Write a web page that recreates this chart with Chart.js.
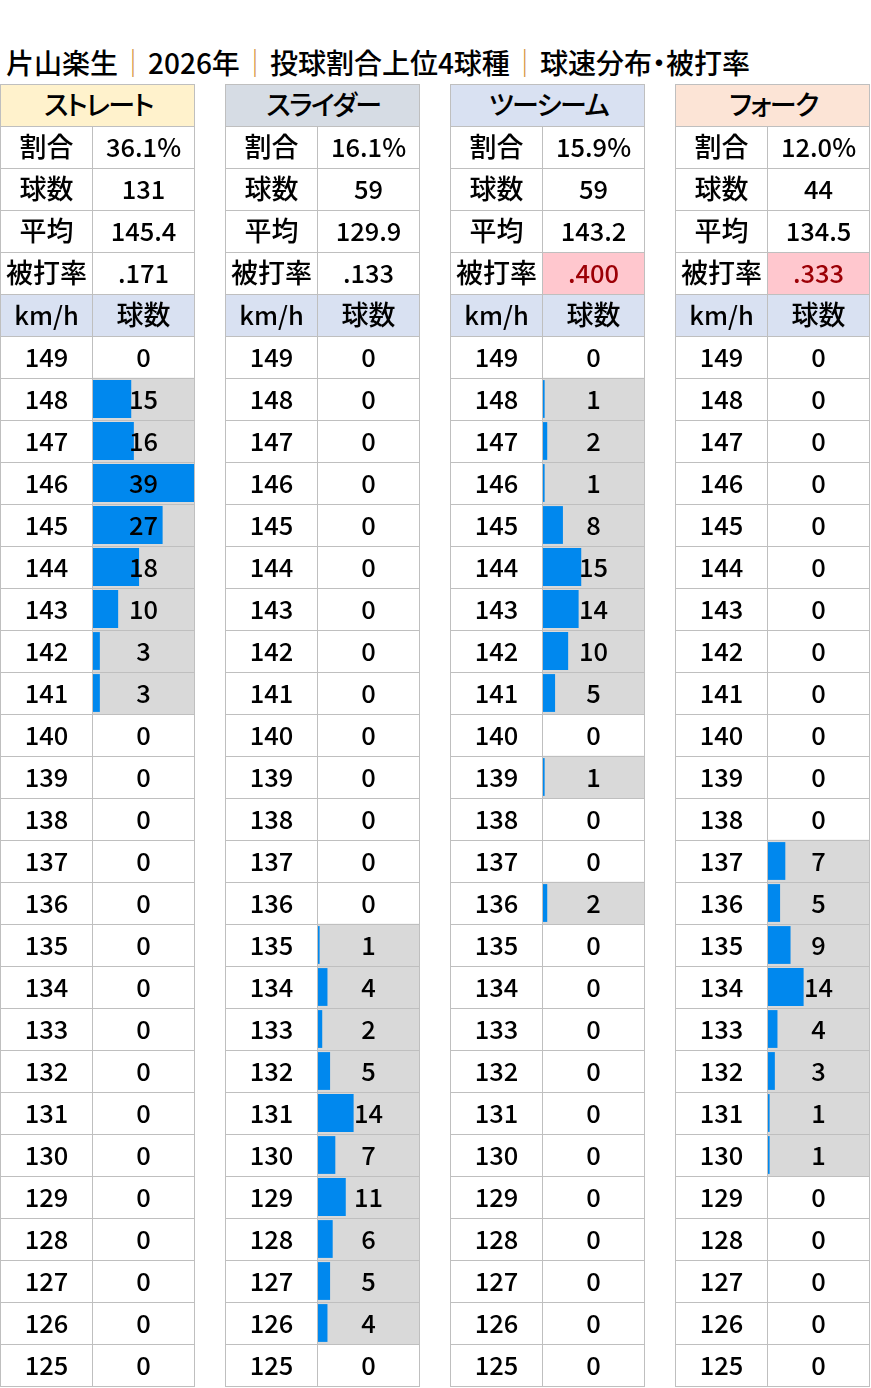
<!DOCTYPE html>
<html>
<head>
<meta charset="utf-8">
<script src="https://cdn.jsdelivr.net/npm/chart.js@4.4.1/dist/chart.umd.min.js"></script>
<style>
  body { margin: 0; background: #fff; width: 871px; height: 1388px; position: relative; overflow: hidden;
         font-family: "Noto Sans CJK JP", "Noto Sans", sans-serif; color: #000; }
  #title { position: absolute; left: 6px; top: 43px; font-size: 28px; font-weight: 500; white-space: nowrap;
           line-height: 38px; font-feature-settings: "palt"; }
  #title .sep { color: #d4923a; font-weight: 400; margin: 0 1px; }
  .cell { position: absolute; box-sizing: border-box; border: 1px solid #bfbfbf; display: flex;
          align-items: center; justify-content: center; font-size: 25.5px; font-weight: 500; z-index: 2;
          white-space: nowrap; padding-bottom: 4px; }
  .cell.kana { font-size: 27px; font-feature-settings: "palt"; }
  .cell.head { letter-spacing: -1.5px; padding-left: 2px; }
  canvas { position: absolute; z-index: 1; }
</style>
</head>
<body>
<div id="title">片山楽生<span class="sep">｜</span>2026年<span class="sep">｜</span>投球割合上位4球種<span class="sep">｜</span>球速分布・被打率</div>
<script>
// Pitch types and summary stats
const pitchNames = ['ストレート', 'スライダー', 'ツーシーム', 'フォーク'];
const headerColors = ['#fff2cc', '#d6dce4', '#d9e1f2', '#fce4d6'];
const statLabels = ['割合', '球数', '平均', '被打率'];
const shares = ['36.1%', '16.1%', '15.9%', '12.0%'];
const pitchCounts = ['131', '59', '59', '44'];
const avgSpeeds = ['145.4', '129.9', '143.2', '134.5'];
const battingAvgs = ['.171', '.133', '.400', '.333'];
const battingHot = [false, false, true, true];

// Speed bins (km/h)
const speeds = [149, 148, 147, 146, 145, 144, 143, 142, 141, 140, 139, 138, 137,
                136, 135, 134, 133, 132, 131, 130, 129, 128, 127, 126, 125];

// Pitch count per speed bin
const straightCounts = [0, 15, 16, 39, 27, 18, 10, 3, 3, 0, 0, 0, 0, 0, 0, 0, 0, 0, 0, 0, 0, 0, 0, 0, 0];
const sliderCounts   = [0, 0, 0, 0, 0, 0, 0, 0, 0, 0, 0, 0, 0, 0, 1, 4, 2, 5, 14, 7, 11, 6, 5, 4, 0];
const twoSeamCounts  = [0, 1, 2, 1, 8, 15, 14, 10, 5, 0, 1, 0, 0, 2, 0, 0, 0, 0, 0, 0, 0, 0, 0, 0, 0];
const forkCounts     = [0, 0, 0, 0, 0, 0, 0, 0, 0, 0, 0, 0, 7, 5, 9, 14, 4, 3, 1, 1, 0, 0, 0, 0, 0];
const allCounts = [straightCounts, sliderCounts, twoSeamCounts, forkCounts];

const panelX = [0, 225, 450, 675];
const TOP = 84, ROW = 42, COL1 = 92, COL2 = 102;
const maxCount = Math.max(...allCounts.flat());

function addCell(x, y, w, text, opts = {}) {
    const d = document.createElement('div');
    d.className = 'cell' + (opts.kana ? ' kana' : '') + (opts.head ? ' head' : '');
    d.style.left = x + 'px';
    d.style.top = y + 'px';
    d.style.width = (w + 1) + 'px';
    d.style.height = (ROW + 1) + 'px';
    if (opts.bg) d.style.background = opts.bg;
    if (opts.color) d.style.color = opts.color;
    d.textContent = text;
    document.body.appendChild(d);
}

pitchNames.forEach((name, p) => {
    const x0 = panelX[p];
    addCell(x0, TOP, COL1 + COL2, name, { bg: headerColors[p], kana: true, head: true });

    const values = [shares[p], pitchCounts[p], avgSpeeds[p], battingAvgs[p]];
    statLabels.forEach((label, i) => {
        const y = TOP + ROW * (i + 1);
        addCell(x0, y, COL1, label, { bg: '#fff', kana: true });
        const hot = i === 3 && battingHot[p];
        addCell(x0 + COL1, y, COL2, values[i], hot ? { bg: '#ffc7ce', color: '#9c0006' } : { bg: '#fff' });
    });

    const yh = TOP + ROW * 5;
    addCell(x0, yh, COL1, 'km/h', { bg: '#d9e1f2' });
    addCell(x0 + COL1, yh, COL2, '球数', { bg: '#d9e1f2', kana: true });

    const counts = allCounts[p];
    speeds.forEach((sp, i) => {
        const y = TOP + ROW * (6 + i);
        addCell(x0, y, COL1, String(sp));
        addCell(x0 + COL1, y, COL2, String(counts[i]));
    });

    // Bars drawn with Chart.js under the count column
    const canvas = document.createElement('canvas');
    canvas.width = COL2;
    canvas.height = ROW * speeds.length;
    canvas.style.left = (x0 + COL1) + 'px';
    canvas.style.top = (TOP + ROW * 6) + 'px';
    canvas.style.width = COL2 + 'px';
    canvas.style.height = (ROW * speeds.length) + 'px';
    document.body.appendChild(canvas);

    new Chart(canvas, {
        type: 'bar',
        data: {
            labels: speeds.map(String),
            datasets: [{
                data: counts,
                backgroundColor: '#0088ee',
                barPercentage: 0.9,
                categoryPercentage: 1,
                grouped: false,
                order: 0
            }, {
                data: counts.map(c => c > 0 ? maxCount : null),
                backgroundColor: '#d9d9d9',
                barPercentage: 1,
                categoryPercentage: 1,
                grouped: false,
                order: 1
            }]
        },
        options: {
            indexAxis: 'y',
            responsive: false,
            animation: false,
            layout: { padding: 0 },
            plugins: { legend: { display: false }, tooltip: { enabled: false } },
            scales: {
                x: { display: false, min: 0, max: maxCount },
                y: { display: false }
            }
        }
    });
});
</script>
</body>
</html>
